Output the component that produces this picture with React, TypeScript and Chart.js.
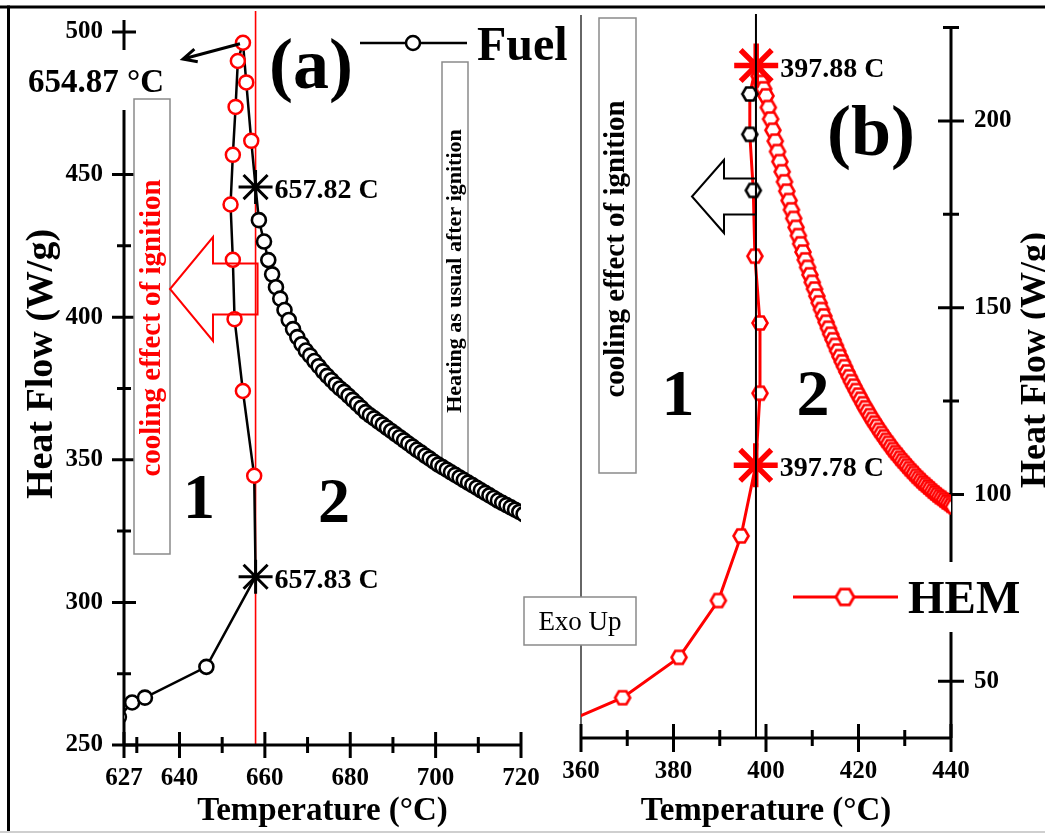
import React, { useEffect, useRef } from 'react';
import { Chart, registerables } from 'chart.js';

Chart.register(...registerables);

const W = 1045;
const H = 833;
const SERIF = "'Liberation Serif', 'Times New Roman', serif";
const RED = '#ff0000';

// ---------------- Panel (a): Fuel ----------------
const fuelXTicks = [627, 640, 660, 680, 700, 720];
const fuelXMinorTicks = [630, 650, 670, 690, 710];
const fuelYTicks = [250, 300, 350, 400, 450, 500];
const fuelYMinorTicks = [275, 325, 375, 425, 475];

const fuelRiseT = [625.8, 628.9, 631.9, 646.3];
const fuelRiseHF = [259.8, 264.9, 266.6, 277.4];
const fuelStarT = [657.83, 657.82];
const fuelStarHF = [309.0, 445.6];
const fuelStarLabels = ['657.83 C', '657.82 C'];
const fuelCoolT = [657.5, 654.85, 652.9, 652.5, 651.96, 652.5, 653.14, 653.67, 654.87, 655.64, 656.81];
const fuelCoolHF = [344.4, 374.1, 399.3, 420.1, 439.5, 456.9, 473.7, 489.8, 496.2, 482.3, 461.8];
const fuelHeatT = [
  658.6, 659.8, 660.8, 661.7, 662.6, 663.6, 664.6, 665.6, 666.6, 667.6, 668.6, 669.6, 670.6,
  671.6, 672.6, 673.6, 674.6, 675.6, 676.6, 677.6, 678.6, 679.6, 680.6, 681.6, 682.6, 683.6,
  684.6, 685.6, 686.6, 687.6, 688.6, 689.6, 690.6, 691.6, 692.6, 693.6, 694.6, 695.6, 696.6,
  697.6, 698.6, 699.6, 700.6, 701.6, 702.6, 703.6, 704.6, 705.6, 706.6, 707.6, 708.6, 709.6,
  710.6, 711.6, 712.6, 713.6, 714.6, 715.6, 716.6, 717.6, 718.6, 719.6, 720.6,
];
const fuelHeatHF = [
  434.0, 426.5, 420.0, 415.0, 410.5, 406.5, 402.5, 399.0, 395.8, 393.0, 390.5, 388.3, 386.5,
  384.6, 382.8, 381.0, 379.4, 377.9, 376.4, 375.0, 373.8, 372.4, 371.0, 369.6, 368.2, 366.7,
  365.6, 364.5, 363.4, 362.3, 361.2, 360.1, 359.0, 357.9, 356.8, 355.7, 354.6, 353.5, 352.5,
  351.4, 350.4, 349.3, 348.3, 347.4, 346.5, 345.6, 344.7, 343.8, 342.9, 342.0, 341.1, 340.2,
  339.3, 338.4, 337.5, 336.6, 335.7, 334.9, 334.1, 333.3, 332.5, 331.7, 330.9,
];
const fuelIgnitionT = 657.82;
const fuelPeakLabel = '654.87 °C';

// ---------------- Panel (b): HEM ----------------
const hemXTicks = [360, 380, 400, 420, 440];
const hemXMinorTicks = [370, 390, 410, 430];
const hemYTicks = [50, 100, 150, 200];
const hemYMinorTicks = [75, 125, 175, 225];

const hemRiseT = [357.5, 369.0, 381.2, 389.7, 394.6];
const hemRiseHF = [39.5, 45.6, 56.4, 71.6, 88.9];
const hemStarT = [397.78, 397.88];
const hemStarHF = [107.8, 214.8];
const hemStarLabels = ['397.78 C', '397.88 C'];
const hemCoolRedT = [398.7, 398.7, 397.6];
const hemCoolRedHF = [127.1, 145.9, 163.8];
const hemCoolBlackT = [397.25, 396.5, 396.5];
const hemCoolBlackHF = [181.4, 196.4, 207.2];
const hemHeatT = [
  398.5, 399.0, 399.5, 400.0, 400.5, 401.0, 401.5, 402.0, 402.5, 403.0, 403.5, 404.0, 404.5,
  405.0, 405.5, 406.0, 406.5, 407.0, 407.5, 408.0, 408.5, 409.0, 409.5, 410.0, 410.5, 411.0,
  411.5, 412.0, 412.5, 413.0, 413.5, 414.0, 414.5, 415.0, 415.5, 416.0, 416.5, 417.0, 417.5,
  418.0, 418.5, 419.0, 419.5, 420.0, 420.5, 421.0, 421.5, 422.0, 422.5, 423.0, 423.5, 424.0,
  424.5, 425.0, 425.5, 426.0, 426.5, 427.0, 427.5, 428.0, 428.5, 429.0, 429.5, 430.0, 430.5,
  431.0, 431.5, 432.0, 432.5, 433.0, 433.5, 434.0, 434.5, 435.0, 435.5, 436.0, 436.5, 437.0,
  437.5, 438.0, 438.5, 439.0, 439.5, 440.0, 440.5,
];
const hemHeatHF = [
  212.0, 210.3, 208.6, 206.7, 203.6, 200.5, 197.5, 194.6, 191.8, 189.1, 186.4, 183.7, 181.2,
  178.7, 176.2, 173.9, 171.5, 169.3, 167.1, 164.9, 162.8, 160.8, 158.8, 156.8, 155.0, 153.1,
  151.3, 149.5, 147.8, 146.1, 144.5, 142.9, 141.4, 139.9, 138.4, 136.9, 135.5, 134.2, 132.8,
  131.5, 130.2, 129.0, 127.8, 126.6, 125.5, 124.3, 123.2, 122.2, 121.1, 120.1, 119.1, 118.2,
  117.2, 116.3, 115.4, 114.5, 113.7, 112.8, 112.0, 111.2, 110.5, 109.7, 109.0, 108.3, 107.6,
  106.9, 106.2, 105.6, 104.9, 104.3, 103.7, 103.1, 102.6, 102.0, 101.5, 100.9, 100.4, 99.9,
  99.4, 99.0, 98.5, 98.0, 97.6, 97.1, 96.7,
];
const hemIgnitionT = 397.83;

// ---------------- helpers ----------------
const xy = (ts: number[], hs: number[]) => ts.map((t, i) => ({ x: t, y: hs[i] }));
const bold = (size: number) => `bold ${size}px ${SERIF}`;

function hexCanvas(color: string, r: number, lw: number) {
  const s = Math.ceil(2 * r + lw + 2);
  const c = document.createElement('canvas');
  c.width = s;
  c.height = s;
  const g = c.getContext('2d')!;
  g.beginPath();
  for (let i = 0; i < 6; i++) {
    const a = (Math.PI / 3) * i;
    const px = s / 2 + r * Math.cos(a);
    const py = s / 2 + r * Math.sin(a);
    if (i === 0) g.moveTo(px, py);
    else g.lineTo(px, py);
  }
  g.closePath();
  g.fillStyle = '#fff';
  g.fill();
  g.strokeStyle = color;
  g.lineWidth = lw;
  g.stroke();
  return c;
}

function text(ctx: CanvasRenderingContext2D, s: string, x: number, y: number, font: string, color = '#000', align: CanvasTextAlign = 'left') {
  ctx.save();
  ctx.font = font;
  ctx.fillStyle = color;
  ctx.textAlign = align;
  ctx.textBaseline = 'alphabetic';
  ctx.fillText(s, x, y);
  ctx.restore();
}

function rotText(ctx: CanvasRenderingContext2D, s: string, cx: number, cy: number, font: string, color = '#000') {
  ctx.save();
  ctx.translate(cx, cy);
  ctx.rotate(-Math.PI / 2);
  ctx.font = font;
  ctx.fillStyle = color;
  ctx.textAlign = 'center';
  ctx.textBaseline = 'middle';
  ctx.fillText(s, 0, 0);
  ctx.restore();
}

function box(ctx: CanvasRenderingContext2D, x: number, y: number, w: number, h: number) {
  ctx.save();
  ctx.fillStyle = '#fff';
  ctx.fillRect(x, y, w, h);
  ctx.strokeStyle = '#8a8a8a';
  ctx.lineWidth = 1.5;
  ctx.strokeRect(x, y, w, h);
  ctx.restore();
}

function crossX(ctx: CanvasRenderingContext2D, scale: any, yPix: number, values: number[], half: number) {
  ctx.beginPath();
  for (const v of values) {
    const p = scale.getPixelForValue(v);
    ctx.moveTo(p, yPix - half);
    ctx.lineTo(p, yPix + half);
  }
  ctx.stroke();
}

function crossY(ctx: CanvasRenderingContext2D, scale: any, xPix: number, values: number[], half: number) {
  ctx.beginPath();
  for (const v of values) {
    const p = scale.getPixelForValue(v);
    ctx.moveTo(xPix - half, p);
    ctx.lineTo(xPix + half, p);
  }
  ctx.stroke();
}

function blockArrow(ctx: CanvasRenderingContext2D, tipX: number, cy: number, headX: number, headHalf: number, bodyHalf: number, endX: number, color: string) {
  ctx.save();
  ctx.strokeStyle = color;
  ctx.lineWidth = 2;
  ctx.beginPath();
  ctx.moveTo(endX, cy - bodyHalf);
  ctx.lineTo(headX, cy - bodyHalf);
  ctx.lineTo(headX, cy - headHalf);
  ctx.lineTo(tipX, cy);
  ctx.lineTo(headX, cy + headHalf);
  ctx.lineTo(headX, cy + bodyHalf);
  ctx.lineTo(endX, cy + bodyHalf);
  ctx.closePath();
  ctx.stroke();
  ctx.restore();
}

const commonOptions = {
  responsive: false,
  animation: false as const,
  devicePixelRatio: 1,
  events: [] as any[],
};

function tickOpts(padding: number) {
  return {
    font: { family: SERIF, size: 25, weight: 'bold' as const },
    color: '#000',
    padding,
    maxRotation: 0,
    autoSkip: false,
    callback: (v: any) => String(v),
  };
}

// ---------------- plugins ----------------
const panelAPlugin = {
  id: 'panelA',
  beforeDatasetsDraw(chart: any) {
    const { ctx, chartArea: ca } = chart;
    const x = chart.scales.x;
    const y = chart.scales.y;
    box(ctx, 442, 62, 26, 411);
    rotText(ctx, 'Heating as usual after ignition', 455.5, 271, bold(22));
    const xi = x.getPixelForValue(fuelIgnitionT);
    ctx.save();
    ctx.strokeStyle = RED;
    ctx.lineWidth = 1.6;
    ctx.beginPath();
    ctx.moveTo(xi, 11);
    ctx.lineTo(xi, ca.bottom);
    ctx.stroke();
    ctx.strokeStyle = '#000';
    ctx.lineWidth = 3;
    ctx.beginPath();
    ctx.moveTo(ca.left, ca.bottom);
    ctx.lineTo(ca.right, ca.bottom);
    ctx.moveTo(ca.left, ca.top);
    ctx.lineTo(ca.left, ca.bottom);
    ctx.stroke();
    crossX(ctx, x, ca.bottom, fuelXTicks, 13);
    crossX(ctx, x, ca.bottom, fuelXMinorTicks, 8);
    crossY(ctx, y, ca.left, fuelYTicks, 12);
    crossY(ctx, y, ca.left, fuelYMinorTicks, 7);
    ctx.restore();
  },
  afterDraw(chart: any) {
    const { ctx, chartArea: ca } = chart;
    const x = chart.scales.x;
    const y = chart.scales.y;
    ctx.save();
    ctx.fillStyle = '#fff';
    ctx.fillRect(ca.left - 14, 50, 28, 60);
    text(ctx, fuelPeakLabel, 28, 92, bold(33));
    const iTop = fuelCoolHF.indexOf(Math.max(...fuelCoolHF));
    const px = x.getPixelForValue(fuelCoolT[iTop]) - 3;
    const py = y.getPixelForValue(fuelCoolHF[iTop]) + 1;
    const ex = 183, ey = 59;
    const ang = Math.atan2(ey - py, ex - px);
    ctx.strokeStyle = '#000';
    ctx.lineWidth = 3;
    ctx.beginPath();
    ctx.moveTo(px, py);
    ctx.lineTo(ex, ey);
    ctx.moveTo(ex - 15 * Math.cos(ang - 0.45), ey - 15 * Math.sin(ang - 0.45));
    ctx.lineTo(ex, ey);
    ctx.lineTo(ex - 15 * Math.cos(ang + 0.45), ey - 15 * Math.sin(ang + 0.45));
    ctx.stroke();
    text(ctx, '(a)', 311, 88, bold(72), '#000', 'center');
    ctx.lineWidth = 2.5;
    ctx.beginPath();
    ctx.moveTo(360, 43);
    ctx.lineTo(467, 43);
    ctx.stroke();
    ctx.beginPath();
    ctx.arc(413, 43, 7, 0, Math.PI * 2);
    ctx.fillStyle = '#fff';
    ctx.fill();
    ctx.lineWidth = 2.5;
    ctx.stroke();
    text(ctx, 'Fuel', 477, 60, bold(48));
    fuelStarT.forEach((t, i) => {
      const sx = x.getPixelForValue(t);
      const sy = y.getPixelForValue(fuelStarHF[i]);
      text(ctx, fuelStarLabels[i], sx + 19, sy + 11, bold(28));
    });
    box(ctx, 134, 99, 36, 455);
    rotText(ctx, 'cooling effect of ignition', 153, 328, bold(29), RED);
    const xi = x.getPixelForValue(fuelIgnitionT);
    blockArrow(ctx, 170, 289, 213, 52, 25.5, xi + 2, RED);
    text(ctx, '1', 199, 518, bold(64), '#000', 'center');
    text(ctx, '2', 334, 522, bold(64), '#000', 'center');
    rotText(ctx, 'Heat Flow (W/g)', 42, 364, bold(38));
    ctx.fillStyle = '#000';
    ctx.fillRect(0, 5.5, W, 3);
    ctx.fillRect(7, 5.5, 3, H);
    ctx.fillStyle = '#cfcfcf';
    ctx.fillRect(0, 831, W, 2);
    ctx.restore();
  },
};

const panelBPlugin = {
  id: 'panelB',
  beforeDatasetsDraw(chart: any) {
    const { ctx, chartArea: ca } = chart;
    const x = chart.scales.x;
    const y = chart.scales.y;
    ctx.save();
    ctx.strokeStyle = '#333';
    ctx.lineWidth = 1.5;
    ctx.beginPath();
    ctx.moveTo(ca.left, 15);
    ctx.lineTo(ca.left, ca.bottom);
    ctx.stroke();
    ctx.strokeStyle = '#000';
    ctx.lineWidth = 3;
    ctx.beginPath();
    ctx.moveTo(ca.left, ca.bottom);
    ctx.lineTo(ca.right, ca.bottom);
    ctx.moveTo(ca.right, ca.top);
    ctx.lineTo(ca.right, ca.bottom);
    ctx.stroke();
    crossX(ctx, x, ca.bottom, hemXTicks, 14);
    crossX(ctx, x, ca.bottom, hemXMinorTicks, 8);
    crossY(ctx, y, ca.right, hemYTicks, 13);
    crossY(ctx, y, ca.right, hemYMinorTicks, 8);
    ctx.restore();
    box(ctx, 599, 18, 37, 455);
    rotText(ctx, 'cooling effect of ignition', 617, 249, bold(29));
  },
  afterDatasetsDraw(chart: any) {
    const { ctx, chartArea: ca } = chart;
    const x = chart.scales.x;
    const xi = x.getPixelForValue(hemIgnitionT);
    ctx.save();
    ctx.strokeStyle = '#000';
    ctx.lineWidth = 2;
    ctx.beginPath();
    ctx.moveTo(xi, 14);
    ctx.lineTo(xi, ca.bottom);
    ctx.stroke();
    ctx.restore();
  },
  afterDraw(chart: any) {
    const { ctx, chartArea: ca } = chart;
    const x = chart.scales.x;
    const y = chart.scales.y;
    ctx.save();
    ctx.fillStyle = '#fff';
    ctx.fillRect(ca.right - 16, 562, 32, 70);
    text(ctx, '(b)', 871, 155, bold(72), '#000', 'center');
    hemStarT.forEach((t, i) => {
      const sx = x.getPixelForValue(t);
      const sy = y.getPixelForValue(hemStarHF[i]);
      text(ctx, hemStarLabels[i], sx + 24, sy + 11, bold(28));
    });
    const xi = x.getPixelForValue(hemIgnitionT);
    blockArrow(ctx, 692, 196.5, 724, 36.5, 18, xi, '#000');
    text(ctx, '1', 678, 415, bold(66), '#000', 'center');
    text(ctx, '2', 813, 415, bold(66), '#000', 'center');
    box(ctx, 524, 597, 112, 48);
    text(ctx, 'Exo Up', 580, 630, `27px ${SERIF}`, '#000', 'center');
    ctx.strokeStyle = RED;
    ctx.lineWidth = 3;
    ctx.beginPath();
    ctx.moveTo(793, 597);
    ctx.lineTo(898, 597);
    ctx.stroke();
    const hx = hexCanvas(RED, 9, 2.8);
    ctx.drawImage(hx, 845 - hx.width / 2, 597 - hx.height / 2);
    text(ctx, 'HEM', 908, 613, bold(47));
    rotText(ctx, 'Heat Flow (W/g)', 1036, 360, bold(36));
    ctx.restore();
  },
};

function configA(): any {
  const fuelLine = [
    ...xy(fuelRiseT, fuelRiseHF),
    { x: fuelStarT[0], y: fuelStarHF[0] },
    ...xy(fuelCoolT, fuelCoolHF),
    { x: fuelStarT[1], y: fuelStarHF[1] },
    ...xy(fuelHeatT, fuelHeatHF),
  ];
  return {
    type: 'scatter',
    data: {
      datasets: [
        { label: 'ignition', data: xy(fuelStarT, fuelStarHF), pointStyle: 'star', pointRadius: 17, pointBorderWidth: 3, pointBorderColor: '#000', pointBackgroundColor: '#000', showLine: false },
        { label: 'cooling', data: xy(fuelCoolT, fuelCoolHF), pointStyle: 'circle', pointRadius: 7, pointBorderWidth: 2.5, pointBorderColor: RED, pointBackgroundColor: '#fff', showLine: false },
        { label: 'Fuel', data: [...xy(fuelRiseT, fuelRiseHF), ...xy(fuelHeatT, fuelHeatHF)], pointStyle: 'circle', pointRadius: 7, pointBorderWidth: 2.6, pointBorderColor: '#000', pointBackgroundColor: '#fff', showLine: false },
        { label: 'Fuel line', data: fuelLine, showLine: true, pointRadius: 0, borderColor: '#000', borderWidth: 2.5, tension: 0 },
      ],
    },
    options: {
      ...commonOptions,
      layout: { padding: { left: 0, top: 13, right: W - 521, bottom: 0 } },
      plugins: { legend: { display: false }, tooltip: { enabled: false } },
      scales: {
        x: {
          type: 'linear', position: 'bottom', min: 627, max: 720,
          afterBuildTicks: (s: any) => { s.ticks = fuelXTicks.map((v) => ({ value: v })); },
          afterFit: (s: any) => { s.height = 88; s.paddingLeft = 0; s.paddingRight = 0; },
          grid: { display: false, drawTicks: false },
          border: { display: false },
          ticks: tickOpts(19),
          title: { display: true, text: 'Temperature (°C)', color: '#000', font: { family: SERIF, size: 33, weight: 'bold' }, padding: { top: 0, bottom: 2 } },
        },
        y: {
          type: 'linear', position: 'left', min: 250, max: 504.17,
          afterBuildTicks: (s: any) => { s.ticks = fuelYTicks.map((v) => ({ value: v })); },
          afterFit: (s: any) => { s.width = 124; s.paddingTop = 0; s.paddingBottom = 0; },
          grid: { display: false, drawTicks: false },
          border: { display: false },
          ticks: tickOpts(21),
        },
      },
    },
    plugins: [panelAPlugin],
  };
}

function configB(): any {
  const hexRed = hexCanvas(RED, 7.5, 2.6);
  const hexBlack = hexCanvas('#000', 7.5, 2.6);
  const hemLine = [
    ...xy(hemRiseT, hemRiseHF),
    { x: hemStarT[0], y: hemStarHF[0] },
    ...xy(hemCoolRedT, hemCoolRedHF),
    ...xy(hemCoolBlackT, hemCoolBlackHF),
    { x: hemStarT[1], y: hemStarHF[1] },
    ...xy(hemHeatT, hemHeatHF),
  ];
  return {
    type: 'scatter',
    data: {
      datasets: [
        { label: 'ignition', data: xy(hemStarT, hemStarHF), pointStyle: 'star', pointRadius: 22, pointBorderWidth: 5.5, pointBorderColor: RED, pointBackgroundColor: RED, showLine: false },
        { label: 'cooling', data: xy(hemCoolBlackT, hemCoolBlackHF), pointStyle: hexBlack, pointRadius: 7.5, showLine: false },
        { label: 'HEM', data: [...xy(hemRiseT, hemRiseHF), ...xy(hemCoolRedT, hemCoolRedHF), ...xy(hemHeatT, hemHeatHF)], pointStyle: hexRed, pointRadius: 7.5, showLine: false },
        { label: 'HEM line', data: hemLine, showLine: true, pointRadius: 0, borderColor: RED, borderWidth: 3, tension: 0 },
      ],
    },
    options: {
      ...commonOptions,
      layout: { padding: { left: 581, top: 14, right: 0, bottom: 0 } },
      plugins: { legend: { display: false }, tooltip: { enabled: false } },
      scales: {
        x: {
          type: 'linear', position: 'bottom', min: 360, max: 440,
          afterBuildTicks: (s: any) => { s.ticks = hemXTicks.map((v) => ({ value: v })); },
          afterFit: (s: any) => { s.height = 95; s.paddingLeft = 0; s.paddingRight = 0; },
          grid: { display: false, drawTicks: false },
          border: { display: false },
          ticks: tickOpts(19),
          title: { display: true, text: 'Temperature (°C)', color: '#000', font: { family: SERIF, size: 33, weight: 'bold' }, padding: { top: 0, bottom: 2 } },
        },
        y: {
          type: 'linear', position: 'right', min: 34.81, max: 225,
          afterBuildTicks: (s: any) => { s.ticks = hemYTicks.map((v) => ({ value: v })); },
          afterFit: (s: any) => { s.width = W - 951; s.paddingTop = 0; s.paddingBottom = 0; },
          grid: { display: false, drawTicks: false },
          border: { display: false },
          ticks: tickOpts(23),
        },
      },
    },
    plugins: [panelBPlugin],
  };
}

export default function App() {
  const refA = useRef<HTMLCanvasElement>(null);
  const refB = useRef<HTMLCanvasElement>(null);
  useEffect(() => {
    const a = new Chart(refA.current!, configA());
    const b = new Chart(refB.current!, configB());
    return () => {
      a.destroy();
      b.destroy();
    };
  }, []);
  const cs: React.CSSProperties = { position: 'absolute', left: 0, top: 0, width: W, height: H };
  return (
    <div style={{ position: 'fixed', left: 0, top: 0, width: W, height: H, background: '#fff' }}>
      <canvas ref={refA} width={W} height={H} style={cs} />
      <canvas ref={refB} width={W} height={H} style={cs} />
    </div>
  );
}
